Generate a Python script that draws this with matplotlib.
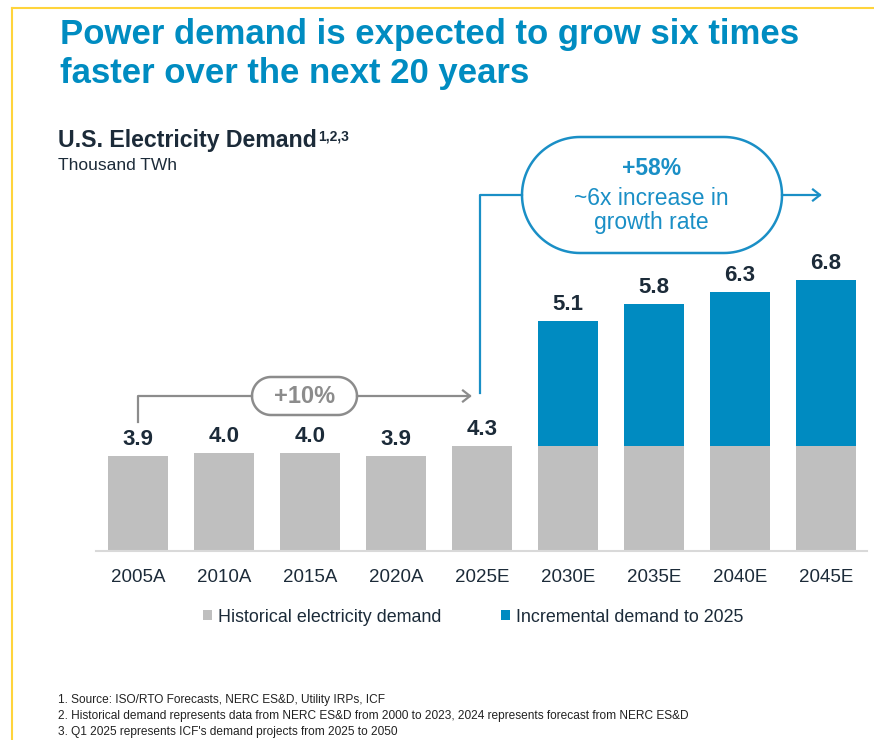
import matplotlib.pyplot as plt
import numpy as np

plt.rcParams['font.family'] = ['Liberation Sans', 'DejaVu Sans']

years = ['2005A', '2010A', '2015A', '2020A', '2025E', '2030E', '2035E', '2040E', '2045E']
historical = [3.9, 4.0, 4.0, 3.9, 4.3, 4.3, 4.3, 4.3, 4.3]
incremental = [0, 0, 0, 0, 0, 5.1, 5.8, 6.3, 6.8]
totals = ['3.9', '4.0', '4.0', '3.9', '4.3', '5.1', '5.8', '6.3', '6.8']
legend_labels = ['Historical electricity demand', 'Incremental demand to 2025']
footnotes = [
    '1. Source: ISO/RTO Forecasts, NERC ES&D, Utility IRPs, ICF',
    '2. Historical demand represents data from NERC ES&D from 2000 to 2023, 2024 represents forecast from NERC ES&D',
    "3. Q1 2025 represents ICF's demand projects from 2025 to 2050",
]

GRAY = '#BFBFBF'
BLUE = '#008BC1'
LINE_BLUE = '#1A8FC6'
DARK = '#1C2B39'
W, H = 874, 740

fig = plt.figure(figsize=(W / 100, H / 100), dpi=100)

# main bar axes (pixel box: x 96..867, y 130..551)
ax = fig.add_axes([96 / W, 1 - 551 / H, (867 - 96) / W, (551 - 130) / H])
ax.patch.set_alpha(0)
x = list(range(len(years)))
b1 = ax.bar(x, historical, width=0.7, color=GRAY)
b2 = ax.bar(x, incremental, width=0.7, bottom=historical, color=BLUE)
ax.set_xlim(-0.49, 8.48)
ax.set_ylim(0, 421 / 24.42)
for s in ['top', 'left', 'right']:
    ax.spines[s].set_visible(False)
ax.spines['bottom'].set_color('#D9D9D9')
ax.spines['bottom'].set_linewidth(1.5)
ax.set_yticks([])
ax.set_xticks(x)
ax.set_xticklabels(years, fontsize=13.5, color=DARK)
ax.tick_params(axis='x', length=0, pad=13)

for i in x:
    top = historical[i] + incremental[i]
    ax.annotate(totals[i], (i, top), xytext=(0, 8), textcoords='offset points',
                ha='center', va='baseline', fontsize=16, fontweight='bold', color=DARK)

fig.legend([b1, b2], legend_labels, loc='center', bbox_to_anchor=(473 / W, 1 - 617 / H),
           ncol=2, frameon=False, fontsize=12.9, handlelength=0.5, handleheight=0.5,
           handletextpad=0.35, columnspacing=3.3, labelcolor=DARK)

# overlay in pixel coordinates for the decorations
ov = fig.add_axes([0, 0, 1, 1])
ov.set_xlim(0, W)
ov.set_ylim(H, 0)
ov.axis('off')
ov.patch.set_alpha(0)


def pill(x0, y0, x1, y1, color):
    r = (y1 - y0) / 2
    yc = (y0 + y1) / 2
    a = np.linspace(np.pi / 2, 3 * np.pi / 2, 60)
    left = np.column_stack([x0 + r + r * np.cos(a), yc + r * np.sin(a)])
    right = np.column_stack([x1 - r - r * np.cos(a), yc - r * np.sin(a)])
    pts = np.vstack([left, right])
    ov.add_patch(plt.Polygon(pts, closed=True, fc='white', ec=color, lw=1.8))


# yellow frame
ov.plot([12, W], [8, 8], color='#FFD43B', lw=1.5)
ov.plot([12, 12], [8, H], color='#FFD43B', lw=1.5)

# titles
ov.text(60, 44, 'Power demand is expected to grow six times', fontsize=25, fontweight='bold',
        color='#008CC1', va='baseline')
ov.text(60, 83, 'faster over the next 20 years', fontsize=25, fontweight='bold',
        color='#008CC1', va='baseline')
t = ov.text(58, 147, 'U.S. Electricity Demand', fontsize=16.7, fontweight='bold', color=DARK, va='baseline')
ov.annotate('1,2,3', xy=(1, 0), xycoords=t, xytext=(1, 8), textcoords='offset points',
            fontsize=10, fontweight='bold', color=DARK, va='baseline')
ov.text(58, 170, 'Thousand TWh', fontsize=12.5, color=DARK, va='baseline')

# gray bracket +10%
GR = '#8C8C8C'
ov.plot([138, 138, 252], [422, 396, 396], color=GR, lw=1.6)
ov.plot([357, 470], [396, 396], color=GR, lw=1.6)
ov.plot([463, 470, 463], [390.5, 396, 401.5], color=GR, lw=1.6)
pill(252, 377, 357, 415, GR)
ov.text(305, 403, '+10%', fontsize=17, fontweight='bold', color=GR, ha='center', va='baseline')

# blue bracket +58%
ov.plot([480, 480, 522], [393, 195, 195], color=LINE_BLUE, lw=1.6)
ov.plot([782, 820], [195, 195], color=LINE_BLUE, lw=1.6)
ov.plot([813, 820, 813], [189.5, 195, 200.5], color=LINE_BLUE, lw=1.6)
pill(522, 137, 782, 253, LINE_BLUE)
ov.text(652, 175, '+58%', fontsize=16.5, fontweight='bold', color=LINE_BLUE, ha='center', va='baseline')
ov.text(651, 205, '~6x increase in', fontsize=16.5, color=LINE_BLUE, ha='center', va='baseline')
ov.text(651, 229, 'growth rate', fontsize=16.5, color=LINE_BLUE, ha='center', va='baseline')

# footnotes
for k, line in enumerate(footnotes):
    ov.text(58, 703 + 16 * k, line, fontsize=8.6, color='#222222', va='baseline')

fig.savefig('out.png', dpi=100)
